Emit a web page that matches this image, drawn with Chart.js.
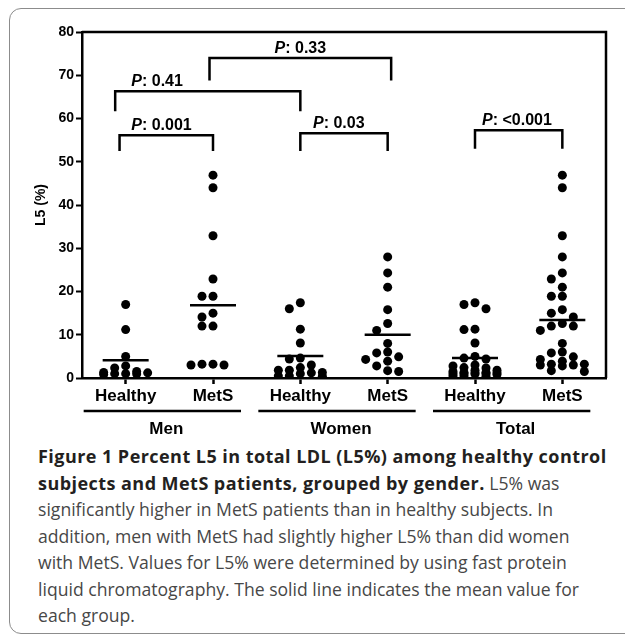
<!DOCTYPE html>
<html>
<head>
<meta charset="utf-8">
<script src="https://cdn.jsdelivr.net/npm/chart.js@4.4.0/dist/chart.umd.min.js"></script>
<style>
    html, body { margin: 0; padding: 0; background: #fff; width: 625px; height: 636px; overflow: hidden; }
    #frame { position: absolute; left: 9px; top: 8px; width: 700px; height: 626px; border: 1.5px solid #8c8c8c; border-radius: 12px; box-sizing: border-box; }
    #wrap { position: absolute; left: 0; top: 0; width: 625px; height: 440px; }
    #caption { position: absolute; left: 38px; top: 443px; font-family: 'Open Sans', sans-serif; font-size: 17.6px; line-height: 26.5px; color: #474747; white-space: nowrap; }
    #caption b { color: #231f20; font-size: 18px; letter-spacing: 0.45px; }
</style>
</head>
<body>
<div id="frame"></div>
<div id="wrap"><canvas id="l5Chart" width="625" height="440"></canvas></div>
<div id="caption">
    <b>Figure 1 Percent L5 in total LDL (L5%) among healthy control</b><br>
    <b>subjects and MetS patients, grouped by gender.</b> L5% was<br>
    significantly higher in MetS patients than in healthy subjects. In<br>
    addition, men with MetS had slightly higher L5% than did women<br>
    with MetS. Values for L5% were determined by using fast protein<br>
    liquid chromatography. The solid line indicates the mean value for<br>
    each group.
</div>
<script>
const groupLabels = ['Men', 'Women', 'Total'];
const categoryLabels = ['Healthy', 'MetS', 'Healthy', 'MetS', 'Healthy', 'MetS'];
const yTicks = [0, 10, 20, 30, 40, 50, 60, 70, 80];

// L5 % per subject
const menHealthy = [17.0, 11.2, 5.0, 2.8, 2.3, 1.5, 1.2, 1.0, 0.9, 0.8, 1.0, 1.3];
const menMetS = [46.9, 44.0, 32.9, 22.9, 18.9, 18.9, 15.0, 14.1, 12.0, 12.0, 3.2, 3.0, 3.0, 3.2];
const womenHealthy = [17.4, 16.0, 11.3, 8.1, 4.6, 4.4, 3.0, 2.4, 1.8, 1.8, 1.3, 1.0, 1.2, 0.5, 0.4, 0.5];
const womenMetS = [28.0, 24.3, 21.0, 15.8, 12.6, 11.0, 8.0, 6.0, 5.8, 4.9, 4.3, 3.9, 2.8, 1.5, 1.7];
const totalHealthy = [17.4, 17.0, 16.0, 11.3, 11.2, 8.1, 5.0, 4.6, 4.4, 3.0, 2.8, 2.4, 2.3, 1.8, 1.8, 1.5, 1.3, 1.3, 1.2, 1.2, 1.0, 1.0, 1.0, 0.9, 0.8, 0.5, 0.5, 0.4];
const totalMetS = [46.9, 44.0, 32.9, 28.0, 24.3, 22.9, 21.0, 18.9, 18.9, 15.8, 15.0, 14.1, 12.6, 12.0, 12.0, 11.0, 8.0, 6.0, 5.8, 4.9, 4.3, 3.9, 3.2, 3.2, 3.0, 3.0, 2.8, 1.7, 1.5];
const groupMeans = [4.1, 16.8, 5.1, 10.0, 4.6, 13.4];

// comparison brackets: x in category units, heights in L5 %
const brackets = [
    { p: '0.001', from: 0.93, to: 2, top: 56.1, leg: 52.5, labelX: 1.41 },
    { p: '0.41', from: 0.88, to: 3, top: 66.3, leg: 61.7, labelX: 1.36 },
    { p: '0.33', from: 1.96, to: 4.04, top: 74.0, leg: 68.8, labelX: 3.0 },
    { p: '0.03', from: 3, to: 4, top: 56.6, leg: 52.5, labelX: 3.44 },
    { p: '<0.001', from: 5, to: 6, top: 57.3, leg: 53.0, labelX: 5.48 }
];

const groupValues = [menHealthy, menMetS, womenHealthy, womenMetS, totalHealthy, totalMetS];
const FONT = "'Liberation Sans', Arial, sans-serif";

// spread close values sideways like a column scatter
function swarm(values, center, chart) {
    const xs = chart.scales.x, ys = chart.scales.y;
    const step = 11, gap = 8;
    const placed = [];
    return values.slice().sort((a, b) => b - a).map(v => {
        const py = ys.getPixelForValue(v);
        let best = 0, bestCost = Infinity;
        for (const s of [0, -1, 1, -2, 2]) {
            let cost = 0;
            placed.forEach(p => {
                if (p.s === s && Math.abs(p.py - py) < gap) cost += gap - Math.abs(p.py - py);
            });
            if (cost < bestCost) { bestCost = cost; best = s; }
            if (cost === 0) break;
        }
        placed.push({ s: best, py: py });
        return { x: xs.getValueForPixel(xs.getPixelForValue(center) + best * step), y: v };
    });
}

const decorations = {
    id: 'decorations',
    afterDraw(chart) {
        const ctx = chart.ctx, a = chart.chartArea;
        const xs = chart.scales.x, ys = chart.scales.y;
        ctx.save();
        ctx.strokeStyle = '#000';
        ctx.fillStyle = '#000';
        ctx.lineCap = 'butt';

        // box top and right
        ctx.lineWidth = 2.5;
        ctx.beginPath();
        ctx.moveTo(a.left, a.top);
        ctx.lineTo(a.right, a.top);
        ctx.lineTo(a.right, a.bottom);
        ctx.stroke();

        // mean lines
        groupMeans.forEach((m, i) => {
            const cx = xs.getPixelForValue(i + 1), y = ys.getPixelForValue(m);
            ctx.beginPath();
            ctx.moveTo(cx - 23, y);
            ctx.lineTo(cx + 23, y);
            ctx.stroke();
        });

        // brackets and P labels
        brackets.forEach(b => {
            const x1 = xs.getPixelForValue(b.from), x2 = xs.getPixelForValue(b.to);
            const yt = ys.getPixelForValue(b.top), yl = ys.getPixelForValue(b.leg);
            ctx.lineWidth = 2.5;
            ctx.beginPath();
            ctx.moveTo(x1, yl);
            ctx.lineTo(x1, yt);
            ctx.lineTo(x2, yt);
            ctx.lineTo(x2, yl);
            ctx.stroke();

            const rest = ': ' + b.p;
            ctx.font = 'italic bold 16px ' + FONT;
            const wP = ctx.measureText('P').width;
            ctx.font = 'bold 16px ' + FONT;
            const wR = ctx.measureText(rest).width;
            const lx = xs.getPixelForValue(b.labelX) - (wP + wR) / 2;
            ctx.textBaseline = 'alphabetic';
            ctx.textAlign = 'left';
            ctx.font = 'italic bold 16px ' + FONT;
            ctx.fillText('P', lx, yt - 5);
            ctx.font = 'bold 16px ' + FONT;
            ctx.fillText(rest, lx + wP, yt - 5);
        });

        // group underlines and labels
        groupLabels.forEach((g, i) => {
            const l = xs.getPixelForValue(2 * i + 1), r = xs.getPixelForValue(2 * i + 2);
            ctx.lineWidth = 2.5;
            ctx.beginPath();
            ctx.moveTo(l - 42, 411);
            ctx.lineTo(r + 28, 411);
            ctx.stroke();
            ctx.font = 'bold 17px ' + FONT;
            ctx.textAlign = 'center';
            ctx.textBaseline = 'middle';
            ctx.fillText(g, (l + r) / 2 - 3, 429);
        });

        // y title
        ctx.translate(41, (a.top + a.bottom) / 2);
        ctx.rotate(-Math.PI / 2);
        ctx.font = 'bold 14px ' + FONT;
        ctx.textAlign = 'center';
        ctx.textBaseline = 'middle';
        ctx.fillText('L5 (%)', 0, 0);
        ctx.restore();
    }
};

const chart = new Chart(document.getElementById('l5Chart'), {
    type: 'scatter',
    data: {
        datasets: groupValues.map((vals, i) => ({
            data: vals.map(v => ({ x: i + 1, y: v })),
            backgroundColor: '#000',
            borderColor: '#000',
            borderWidth: 0,
            pointRadius: 4.5,
            pointHoverRadius: 4.5
        }))
    },
    options: {
        responsive: false,
        animation: false,
        events: [],
        layout: { padding: { left: 0, right: 19, top: 32, bottom: 0 } },
        plugins: { legend: { display: false }, tooltip: { enabled: false } },
        scales: {
            x: {
                type: 'linear', min: 0.5, max: 6.5,
                afterBuildTicks: s => { s.ticks = categoryLabels.map((_, i) => ({ value: i + 1 })); },
                afterFit: s => { s.height = 62; },
                ticks: {
                    callback: (v, i) => categoryLabels[i],
                    color: '#000', padding: 2, autoSkip: false, maxRotation: 0,
                    font: { family: FONT, size: 17, weight: 'bold' }
                },
                grid: { drawOnChartArea: false, tickLength: 6, tickWidth: 2.5, color: '#000' },
                border: { color: '#000', width: 2.5 }
            },
            y: {
                min: 0, max: 80,
                afterBuildTicks: s => { s.ticks = yTicks.map(v => ({ value: v })); },
                afterFit: s => { s.width = 82; },
                ticks: { color: '#000', padding: 2, font: { family: FONT, size: 14, weight: 'bold' } },
                grid: { drawOnChartArea: false, tickLength: 6, tickWidth: 2, color: '#000' },
                border: { color: '#000', width: 2.5 }
            }
        }
    },
    plugins: [decorations]
});

chart.data.datasets.forEach((ds, i) => { ds.data = swarm(groupValues[i], i + 1, chart); });
chart.update('none');
</script>
</body>
</html>
